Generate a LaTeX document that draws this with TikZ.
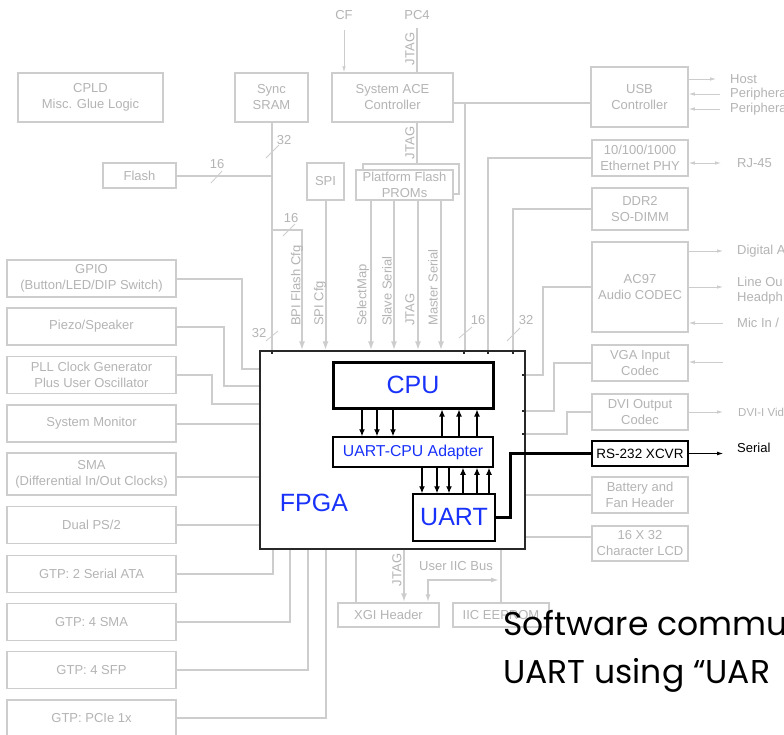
\documentclass[tikz,border=0pt]{standalone}
\usepackage{fontspec}
\setmainfont{Liberation Sans}
\newfontfamily\comicfont{Poppins}
\usetikzlibrary{arrows.meta}
\definecolor{lgray}{RGB}{205,205,205}
\definecolor{tgray}{RGB}{180,180,180}
\definecolor{cblue}{RGB}{25,50,250}
\begin{document}
\begin{tikzpicture}[x=1pt,y=-1pt,
 gbox/.style={draw=lgray,line width=1.5pt,text=tgray,font=\fontsize{13}{16}\selectfont,align=center,inner sep=0pt},
 gline/.style={draw=lgray,line width=2pt},
 garr/.style={gline,-{Latex[length=9pt,width=6pt]}},
 gbiarr/.style={draw=lgray,line width=1.5pt,{Latex[length=8pt,width=5pt]}-{Latex[length=8pt,width=5pt]}},
 tarr/.style={draw=lgray,line width=0.8pt,-{Latex[length=6pt,width=3.5pt]}},
 tbiarr/.style={draw=lgray,line width=0.8pt,{Latex[length=6pt,width=3.5pt]}-{Latex[length=6pt,width=3.5pt]}},
 glab/.style={text=tgray,font=\fontsize{13}{16}\selectfont,inner sep=0pt},
 slash/.style={draw=lgray,line width=0.8pt},
 bbox/.style={draw=black,line width=1.5pt,fill=white,inner sep=0pt,align=center},
 barr/.style={draw=black,line width=1.2pt,-{Latex[length=7pt,width=6pt]}},
 blab/.style={text=cblue,inner sep=0pt},
 tick/.style={fill={rgb,255:red,40;green,40;blue,40}}
]
\fill[white] (0,0) rectangle (784,734);
\useasboundingbox (0,0) rectangle (784,734);

% ---------- gray boxes ----------
\node[gbox,minimum width=145pt,minimum height=49pt] (cpld) at (90.5,97.5) {CPLD\\Misc. Glue Logic};
\node[gbox,minimum width=73pt,minimum height=49pt] (sram) at (271.5,97.5) {Sync\\SRAM};
\node[gbox,minimum width=121pt,minimum height=49pt] (ace) at (392.5,97.5) {System ACE\\Controller};
\node[gbox,minimum width=97pt,minimum height=60pt] (usb) at (639.5,97) {USB\\Controller};
\node[gbox,minimum width=73pt,minimum height=25pt] (flash) at (139.5,175.5) {Flash};
\node[gbox,minimum width=37pt,minimum height=37pt] (spi) at (325.5,181.5) {SPI};
\node[gbox,minimum width=96pt,minimum height=30pt] (promb) at (411,179) {};
\node[gbox,fill=white,minimum width=97pt,minimum height=30pt] (prom) at (404.5,185) {Platform Flash\\PROMs};
\node[gbox,minimum width=96pt,minimum height=36pt] (eth) at (640,158) {10/100/1000\\Ethernet PHY};
\node[gbox,minimum width=96pt,minimum height=42pt] (ddr) at (640,209) {DDR2\\SO-DIMM};
\node[gbox,minimum width=96pt,minimum height=90pt] (ac97) at (640,287) {AC97\\Audio CODEC};
\node[gbox,minimum width=96pt,minimum height=36pt] (vga) at (640,363) {VGA Input\\Codec};
\node[gbox,minimum width=96pt,minimum height=36pt] (dvi) at (640,412) {DVI Output\\Codec};
\node[gbox,minimum width=96pt,minimum height=36pt] (batt) at (640,495) {Battery and\\Fan Header};
\node[gbox,minimum width=96pt,minimum height=35pt] (lcd) at (640,543.5) {16 X 32\\Character LCD};

\node[gbox,minimum width=169pt,minimum height=37pt] (gpio) at (91.5,278.5) {GPIO\\(Button/LED/DIP Switch)};
\node[gbox,minimum width=169pt,minimum height=37pt] (piezo) at (91.5,326.5) {Piezo/Speaker};
\node[gbox,minimum width=169pt,minimum height=37pt] (pll) at (91.5,375) {PLL Clock Generator\\Plus User Oscillator};
\node[gbox,minimum width=169pt,minimum height=37pt] (sysmon) at (91.5,423.5) {System Monitor};
\node[gbox,minimum width=169pt,minimum height=42pt] (sma) at (91.5,474) {SMA\\(Differential In/Out Clocks)};
\node[gbox,minimum width=169pt,minimum height=37pt] (ps2) at (91.5,525) {Dual PS/2};
\node[gbox,minimum width=169pt,minimum height=37pt] (sata) at (91.5,574) {GTP: 2 Serial ATA};
\node[gbox,minimum width=169pt,minimum height=37pt] (sma4) at (91.5,622) {GTP: 4 SMA};
\node[gbox,minimum width=169pt,minimum height=37pt] (sfp) at (91.5,670) {GTP: 4 SFP};
\node[gbox,minimum width=169pt,minimum height=37pt] (pcie) at (91.5,718.5) {GTP: PCIe 1x};
\node[gbox,minimum width=101pt,minimum height=24pt] (xgi) at (388.5,615) {XGI Header};
\node[gbox,minimum width=96pt,minimum height=24pt] (eeprom) at (501,615) {IIC EEPROM};

% ---------- FPGA ----------
\node[draw={rgb,255:red,40;green,40;blue,40},line width=1.2pt,fill=white,minimum width=265pt,minimum height=198pt,inner sep=0pt] (fpga) at (392.5,450) {};

% ---------- top connections ----------
\node[glab] (cf) at (344,15) {CF};
\node[glab] (pc4) at (417,15) {PC4};
\draw[tarr] ([yshift=-10pt]cf.south) -- (ace.north -| cf.south);
\draw[gline] ([yshift=-8pt]pc4.south) -- (ace.north -| pc4.south);
\node[glab,rotate=90] (jt1) at (410,49) {JTAG};
\draw[gline] (ace.south -| pc4.south) -- (promb.north -| pc4.south);
\node[glab,rotate=90] (jt2) at (410,143) {JTAG};

\draw[gline] (sram.south) -- (sram.south |- fpga.north);
\draw[gline] (flash.east) -- (flash.east -| sram.south);
\coordinate (br) at (271.5,230);
\draw[garr] (br) -| (fpga.north -| 302,0);
\draw[garr] (spi.south) -- (spi.south |- fpga.north);
\foreach \x in {371,394,418,441} \draw[garr] (prom.south -| \x,0) -- (fpga.north -| \x,0);

\node[glab,rotate=90,anchor=west] (lbpi) at (297,326) {BPI Flash Cfg};
\node[glab,rotate=90,anchor=west] (lspi) at (320,326) {SPI Cfg};
\node[glab,rotate=90,anchor=west] (lsel) at (363,326) {SelectMap};
\node[glab,rotate=90,anchor=west] (lsl) at (387,326) {Slave Serial};
\node[glab,rotate=90,anchor=west] (ljt) at (410,326) {JTAG};
\node[glab,rotate=90,anchor=west] (lms) at (433,326) {Master Serial};

\coordinate (j1) at (465,103);
\draw[gline] ([yshift=-5.5pt]ace.east) -- (j1) -- ([yshift=-5.5pt]ace.east -| usb.west);
\draw[gline] (j1) -- (j1 |- fpga.north);
\draw[gline] (eth.west) -| (fpga.north -| 488,0);
\draw[gline] (ddr.west) -| (fpga.north -| 513,0);

% bus width labels
\node[glab] (n32a) at (284,140) {32};
\draw[slash] (266,158) -- (279,145);
\node[glab] (n16a) at (217,164) {16};
\draw[slash] (211,183) -- (222,171);
\node[glab] (n16b) at (291,218) {16};
\draw[slash] (283,236) -- (295,224);
\node[glab] (n32b) at (259,333) {32};
\draw[slash] (266,341) -- (278,331);
\node[glab] (n16c) at (478,320) {16};
\draw[slash] (459,338) -- (472,327);
\node[glab] (n32c) at (526,320) {32};
\draw[slash] (507,341) -- (520,328);

% ---------- right connections ----------
\draw[gline] (ac97.west) -| (543,375) -- (fpga.east |- 0,375);
\draw[gline] (vga.west) -| (554,411) -- (fpga.east |- 0,411);
\draw[gline] (dvi.west) -| (567,434) -- (fpga.east |- 0,434);
\draw[gline] (batt.west) -- (batt.west -| fpga.east);
\draw[gline] (lcd.west |- 0,537) -- (fpga.east |- 0,537);

\coordinate (hostend) at (716,79);
\coordinate (per1) at (720,94);
\coordinate (per2) at (720,109);
\draw[tarr] (usb.east |- hostend) -- (hostend);
\draw[tarr] (per1) -- (usb.east |- per1);
\draw[tarr] (per2) -- (usb.east |- per2);
\node[glab,anchor=west] (thost) at (730,79) {Host};
\node[glab,anchor=west] (tper1) at (730,94) {Periphera};
\node[glab,anchor=west] (tper2) at (730,109) {Periphera};

\coordinate (rj) at (721,163);
\draw[tbiarr] (eth.east |- rj) -- (rj);
\node[glab,anchor=west] (trj) at (737,163) {RJ-45};

\coordinate (dig) at (723,251);
\coordinate (lo) at (723,287);
\coordinate (mic) at (723,323);
\draw[tarr] (ac97.east |- dig) -- (dig);
\draw[tarr] (ac97.east |- lo) -- (lo);
\draw[tarr] (mic) -- (ac97.east |- mic);
\node[glab,anchor=west] (tdig) at (737,251) {Digital A};
\node[glab,anchor=west] (tlo) at (737,282) {Line Ou};
\node[glab,anchor=west] (thp) at (737,298) {Headph};
\node[glab,anchor=west] (tmic) at (737,323) {Mic In /};

\coordinate (vgain) at (723,362);
\draw[tarr] (vgain) -- (vga.east |- vgain);
\coordinate (dviout) at (723,412);
\draw[tarr] (dvi.east) -- (dviout);
\node[glab,anchor=west,font=\fontsize{11.5}{14}\selectfont] (tdvi) at (738,412) {DVI-I Vide};

% ---------- left connections ----------
\draw[gline] (gpio.east) -| (242,369) -- (fpga.west |- 0,369);
\draw[gline] (piezo.east) -| (224,386) -- (fpga.west |- 0,386);
\draw[gline] (pll.east) -| (212,404) -- (fpga.west |- 0,404);
\draw[gline] (sysmon.east) -- (sysmon.east -| fpga.west);
\draw[gline] (sma.east |- 0,477) -- (fpga.west |- 0,477);
\draw[gline] (ps2.east) -- (ps2.east -| fpga.west);
\draw[gline] (sata.east) -| (fpga.south -| 273,0);
\draw[gline] (sma4.east) -| (fpga.south -| 290,0);
\draw[gline] (sfp.east) -| (fpga.south -| 308,0);
\draw[gline] (pcie.east |- 0,718) -| (fpga.south -| 326,0);

% ---------- bottom connections ----------
\draw[gline] (fpga.south -| 356,0) -- (xgi.north -| 356,0);
\draw[garr] (fpga.south -| 404,0) -- (xgi.north -| 404,0);
\node[glab,rotate=90] (jt3) at (397,570) {JTAG};
\draw[gline] (fpga.south -| 501,0) -- (eeprom.north -| 501,0);
\coordinate (iicend) at (499,580);
\draw[gbiarr] (xgi.north -| 428,0) |- (iicend);
\node[glab] (tiic) at (456,566) {User IIC Bus};

% ---------- FPGA edge ticks ----------
\foreach \x in {272,464,488,513} \fill[tick] (\x-1.2,351) rectangle (\x+1.2,354);
\foreach \y in {375,411,434} \fill[tick] (522,\y-1.2) rectangle (525,\y+1.2);

% ---------- FPGA internals ----------
\node[bbox,line width=3pt,minimum width=160pt,minimum height=46pt] (cpu) at (413,385) {};
\node[blab,font=\fontsize{25}{25}\selectfont] (tcpu) at (cpu.center) {CPU};
\node[bbox,line width=1.5pt,minimum width=160pt,minimum height=30pt] (adapter) at (413,452) {};
\node[blab,font=\fontsize{15.8}{16}\selectfont] (tad) at (adapter.center) {UART-CPU Adapter};
\node[bbox,line width=1.5pt,minimum width=82pt,minimum height=47pt] (uart) at (454,517.5) {};
\node[blab,font=\fontsize{25}{25}\selectfont] (tuart) at (uart.center) {UART};
\node[blab,font=\fontsize{25}{25}\selectfont] (tfpga) at (314,503) {FPGA};

\foreach \x in {362,377,393} \draw[barr] (cpu.south -| \x,0) -- (adapter.north -| \x,0);
\foreach \x in {442,459,477} \draw[barr] (adapter.north -| \x,0) -- (cpu.south -| \x,0);
\foreach \x in {422,437,449} \draw[barr] (adapter.south -| \x,0) -- (uart.north -| \x,0);
\foreach \x in {463,477,489} \draw[barr] (uart.north -| \x,0) -- (adapter.south -| \x,0);

% ---------- RS-232 ----------
\node[bbox,minimum width=96pt,minimum height=25pt,font=\fontsize{13.5}{14}\selectfont] (rs) at (640,453.5) {RS-232 XCVR};
\draw[black,line width=3pt] (uart.east) -| (510,453.5) -- (rs.west);
\coordinate (serend) at (723,453.5);
\draw[draw=black,line width=0.8pt,-{Latex[length=6pt,width=4pt]}] (rs.east) -- (serend);
\node[anchor=west,inner sep=0pt,font=\fontsize{13}{14}\selectfont] (tser) at (737,448) {Serial};

% ---------- big caption ----------
\node[anchor=base west,inner sep=0pt,font=\comicfont\fontsize{33}{40}\selectfont] (cap1) at (503,635) {Software commun};
\node[anchor=base west,inner sep=0pt,font=\comicfont\fontsize{33}{40}\selectfont] (cap2) at (503,683) {UART using “UAR};
\end{tikzpicture}
\end{document}
